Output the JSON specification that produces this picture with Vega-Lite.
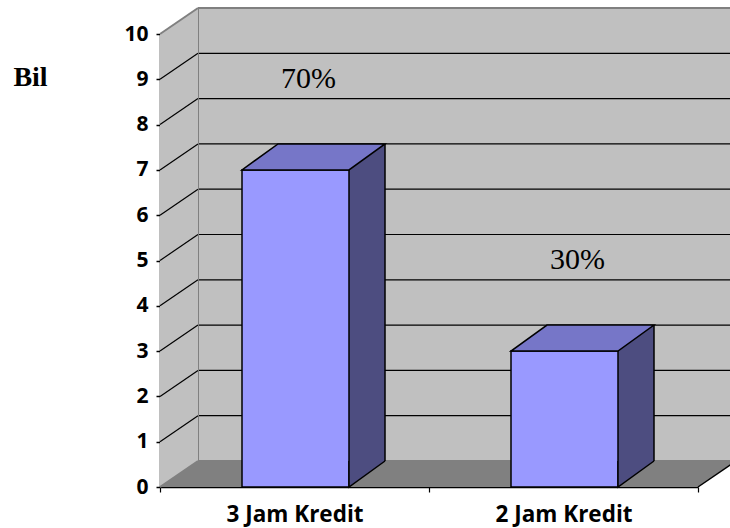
{
  "$schema": "https://vega.github.io/schema/vega-lite/v6.json",
  "width": 538,
  "height": 453,
  "autosize": "none",
  "padding": {"left": 160, "top": 34, "right": 32, "bottom": 41},
  "background": "white",
  "config": {
    "view": {"stroke": null},
    "axis": {"grid": false, "zindex": 1, "domainColor": "black", "domainWidth": 1.5, "tickColor": "black", "labelColor": "black", "labelFont": "Open Sans", "labelFontWeight": "bold"},
    "axisX": {"labelAngle": 0, "labelFontSize": 22.5, "labelPadding": 11, "tickBand": "extent", "tickSize": 5, "tickWidth": 1.2},
    "axisY": {
      "values": [0, 1, 2, 3, 4, 5, 6, 7, 8, 9, 10], "format": "d",
      "labelFontSize": 21, "labelPadding": 8, "tickSize": 4, "tickWidth": 1.5,
      "titleAngle": 0, "titleX": -130, "titleY": 43, "titleAlign": "center", "titleBaseline": "middle",
      "titleFont": "Liberation Serif", "titleFontSize": 28, "titleFontWeight": "bold", "titleColor": "black"
    }
  },
  "datasets": {
    "bars": [
      {"kredit": "3 Jam Kredit", "bil": 7, "peratus": 0.7},
      {"kredit": "2 Jam Kredit", "bil": 3, "peratus": 0.3}
    ],
    "grid": [{"v": 1}, {"v": 2}, {"v": 3}, {"v": 4}, {"v": 5}, {"v": 6}, {"v": 7}, {"v": 8}, {"v": 9}],
    "top": [{"v": 10}],
    "base": [{"v": 0}],
    "edges": [{"v": 0}, {"v": 10}]
  },
  "layer": [
    {
      "data": {"name": "top"},
      "mark": {"type": "rect", "fill": "#c0c0c0", "xOffset": 38, "x2Offset": 38, "yOffset": -26, "y2Offset": -26},
      "encoding": {
        "x": {"value": 0},
        "x2": {"value": "width"},
        "y": {"field": "v", "type": "quantitative", "title": "Bil", "scale": {"domain": [0, 10], "nice": false}},
        "y2": {"datum": 0}
      }
    },
    {
      "data": {"name": "grid"},
      "mark": {"type": "rule", "color": "black", "strokeWidth": 1.2, "xOffset": 38, "x2Offset": 38, "yOffset": -26},
      "encoding": {
        "x": {"value": 0},
        "x2": {"value": "width"},
        "y": {"field": "v", "type": "quantitative", "title": "Bil"}
      }
    },
    {
      "data": {"name": "top"},
      "mark": {"type": "rule", "color": "#808080", "strokeWidth": 2, "xOffset": 38, "yOffset": -26, "y2Offset": -26},
      "encoding": {
        "x": {"value": 0},
        "y": {"field": "v", "type": "quantitative", "title": "Bil"},
        "y2": {"datum": 0}
      }
    },
    {
      "data": {"name": "top"},
      "mark": {"type": "rect", "fill": "#c0c0c0", "x2Offset": 38, "y2Offset": -26},
      "encoding": {
        "x": {"value": 0},
        "x2": {"value": 0},
        "y": {"field": "v", "type": "quantitative", "title": "Bil"},
        "y2": {"datum": 0}
      }
    },
    {
      "data": {"name": "top"},
      "mark": {"type": "point", "shape": "M0,0L38,-26L38,0Z", "size": 4, "filled": true, "fill": "#c0c0c0", "strokeWidth": 0, "opacity": 1},
      "encoding": {
        "x": {"value": 0},
        "y": {"field": "v", "type": "quantitative", "title": "Bil"}
      }
    },
    {
      "data": {"name": "grid"},
      "mark": {"type": "rule", "color": "black", "strokeWidth": 1.2, "x2Offset": 38, "y2Offset": -26},
      "encoding": {
        "x": {"value": 0},
        "x2": {"value": 0},
        "y": {"field": "v", "type": "quantitative", "title": "Bil"},
        "y2": {"field": "v"}
      }
    },
    {
      "data": {"name": "base"},
      "mark": {"type": "rect", "fill": "#808080", "y2Offset": -26},
      "encoding": {
        "x": {"value": 0},
        "x2": {"value": "width"},
        "y": {"field": "v", "type": "quantitative", "title": "Bil"},
        "y2": {"field": "v"}
      }
    },
    {
      "data": {"name": "base"},
      "mark": {"type": "point", "shape": "M0,0L38,-26L0,-26Z", "size": 4, "filled": true, "fill": "#808080", "strokeWidth": 0, "opacity": 1},
      "encoding": {
        "x": {"value": "width"},
        "y": {"field": "v", "type": "quantitative", "title": "Bil"}
      }
    },
    {
      "data": {"name": "base"},
      "mark": {"type": "point", "shape": "M0,0L0,-26L38,-26Z", "size": 4, "filled": true, "fill": "#c0c0c0", "strokeWidth": 0, "opacity": 1},
      "encoding": {
        "x": {"value": 0},
        "y": {"field": "v", "type": "quantitative", "title": "Bil"}
      }
    },
    {
      "data": {"name": "edges"},
      "mark": {"type": "rule", "color": "#808080", "strokeWidth": 2, "xOffset": 38, "x2Offset": 38, "yOffset": -26},
      "encoding": {
        "x": {"value": 0},
        "x2": {"value": "width"},
        "y": {"field": "v", "type": "quantitative", "title": "Bil"}
      }
    },
    {
      "data": {"name": "edges"},
      "mark": {"type": "rule", "color": "#808080", "strokeWidth": 2, "x2Offset": 38, "y2Offset": -26},
      "encoding": {
        "x": {"value": 0},
        "x2": {"value": 0},
        "y": {"field": "v", "type": "quantitative", "title": "Bil"},
        "y2": {"field": "v"}
      }
    },
    {
      "data": {"name": "base"},
      "mark": {"type": "rule", "color": "black", "strokeWidth": 1.5, "x2Offset": 38, "y2Offset": -26},
      "encoding": {
        "x": {"value": "width"},
        "x2": {"value": "width"},
        "y": {"field": "v", "type": "quantitative", "title": "Bil"},
        "y2": {"field": "v"}
      }
    },
    {
      "data": {"name": "bars"},
      "mark": {"type": "bar", "width": 107, "fill": "#4d4d80", "xOffset": 37, "yOffset": -26, "y2Offset": -26},
      "encoding": {
        "x": {"field": "kredit", "type": "nominal", "sort": null, "title": null, "scale": {"domain": ["3 Jam Kredit", "2 Jam Kredit"], "paddingInner": 0, "paddingOuter": 0}},
        "y": {"field": "bil", "type": "quantitative", "title": "Bil"},
        "y2": {"datum": 0}
      }
    },
    {
      "data": {"name": "bars"},
      "mark": {"type": "rule", "color": "black", "strokeWidth": 1.5, "xOffset": 90.5, "yOffset": -26, "y2Offset": -26},
      "encoding": {
        "x": {"field": "kredit", "type": "nominal", "sort": null, "title": null},
        "y": {"field": "bil", "type": "quantitative", "title": "Bil"},
        "y2": {"datum": 0}
      }
    },
    {
      "data": {"name": "bars"},
      "mark": {"type": "bar", "width": 107, "fill": "#9999ff", "stroke": "black", "strokeWidth": 1.5, "xOffset": 1},
      "encoding": {
        "x": {"field": "kredit", "type": "nominal", "sort": null, "title": null},
        "y": {"field": "bil", "type": "quantitative", "title": "Bil"},
        "y2": {"datum": 0}
      }
    },
    {
      "data": {"name": "bars"},
      "mark": {"type": "point", "shape": "M-53.5,0L53.5,0L89.5,-26L-17.5,-26Z", "size": 4, "filled": true, "fill": "#7676c8", "stroke": "black", "strokeWidth": 1.5, "opacity": 1, "xOffset": 1},
      "encoding": {
        "x": {"field": "kredit", "type": "nominal", "sort": null, "title": null},
        "y": {"field": "bil", "type": "quantitative", "title": "Bil"}
      }
    },
    {
      "data": {"name": "bars"},
      "mark": {"type": "point", "shape": "M53.5,-26L53.5,0L89.5,-26", "size": 4, "filled": true, "fill": "#4d4d80", "stroke": "black", "strokeWidth": 1.5, "opacity": 1, "xOffset": 1},
      "encoding": {
        "x": {"field": "kredit", "type": "nominal", "sort": null, "title": null},
        "y": {"datum": 0, "type": "quantitative", "title": "Bil"}
      }
    },
    {
      "data": {"name": "bars"},
      "mark": {"type": "text", "font": "Liberation Serif", "fontSize": 30, "color": "black", "dx": 14, "dy": -91},
      "encoding": {
        "x": {"field": "kredit", "type": "nominal", "sort": null, "title": null},
        "y": {"field": "bil", "type": "quantitative", "title": "Bil"},
        "text": {"field": "peratus", "type": "quantitative", "format": ".0%"}
      }
    }
  ]
}
